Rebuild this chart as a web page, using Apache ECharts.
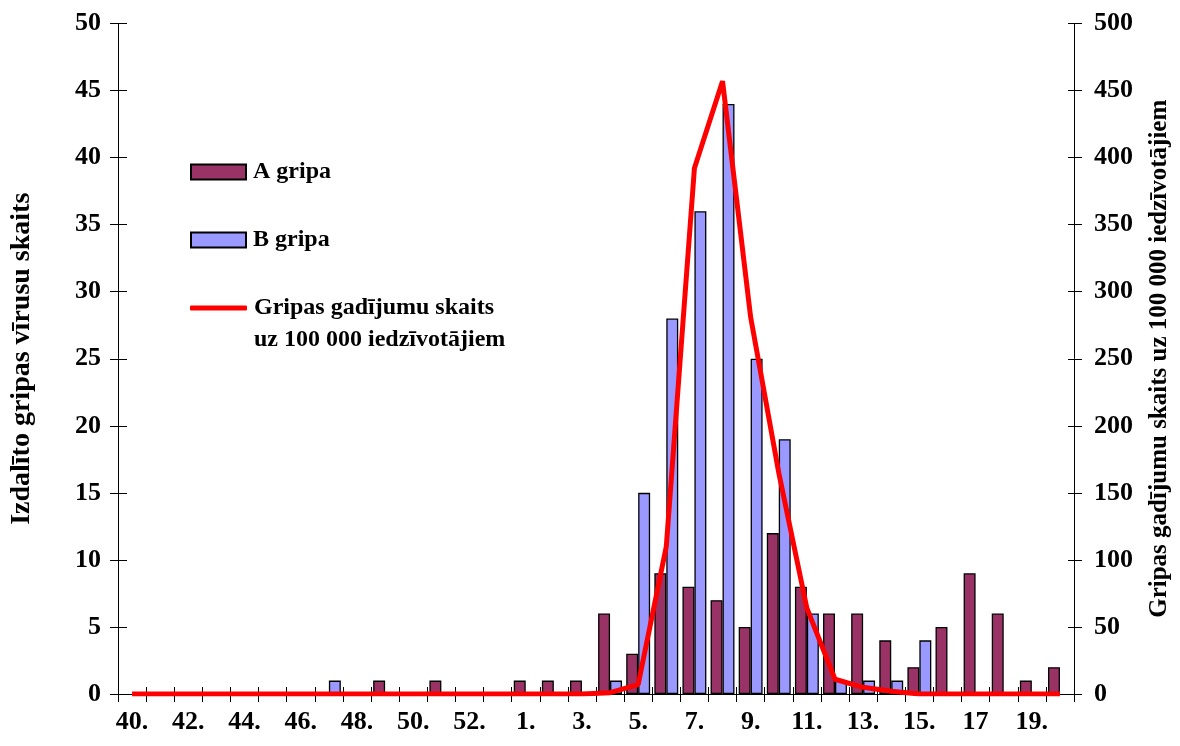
<!DOCTYPE html>
<html>
<head>
<meta charset="utf-8">
<script src="https://cdn.jsdelivr.net/npm/echarts@6/dist/echarts.min.js"></script>
<style>
html,body{margin:0;padding:0;background:#fff;}
#chart{width:1180px;height:746px;}
</style>
</head>
<body>
<div id="chart"></div>
<script>
// Weeks (2009/2010 season: weeks 40-53, then 1-20)
var weeks = ['40.','41.','42.','43.','44.','45.','46.','47.','48.','49.','50.','51.','52.','53.',
             '1.','2.','3.','4.','5.','6.','7.','8.','9.','10.','11.','12.','13.','14.','15.','16.','17','18.','19.','20.'];
// Influenza A isolated viruses
var gripaA = [0,0,0,0,0,0,0,0,0,1,0,1,0,0,
              1,1,1,6,3,9,8,7,5,12,8,6,6,4,2,5,9,6,1,2];
// Influenza B isolated viruses
var gripaB = [0,0,0,0,0,0,0,1,0,0,0,0,0,0,
              0,0,0,1,15,28,36,44,25,19,6,1,1,1,4,0,0,0,0,0];
// Influenza cases per 100 000 inhabitants
var rate = [0,0,0,0,0,0,0,0,0,0,0,0,0,0,
            0,0,0,1,7,110,392,457,281,165,64,11,5,2,0,0,0,0,0,0];

var leftTicks = [0,5,10,15,20,25,30,35,40,45,50];
var rightTicks = [0,50,100,150,200,250,300,350,400,450,500];

var nameA = 'A gripa';
var nameB = 'B gripa';
var nameRate = 'Gripas gadījumu skaits uz 100 000 iedzīvotājiem';

var FONT = 'Liberation Serif';
function T(size) { return {fontFamily: FONT, fontWeight: 'bold', fontSize: size, color: '#000'}; }

// zero counts are drawn as no bar (as in the original)
function noZero(arr) { return arr.map(function (v) { return v === 0 ? null : v; }); }

var chart = echarts.init(document.getElementById('chart'), null, {renderer: 'canvas'});

function legendBlock(item, top, extra) {
  var o = {
    data: [item],
    left: 190, top: top, padding: 0,
    itemWidth: 55, itemHeight: 15, itemGap: 0,
    selectedMode: false,
    textStyle: Object.assign(T(24), {padding: [0,0,0,2]})
  };
  return Object.assign(o, extra || {});
}

var option = {
  animation: false,
  backgroundColor: '#fff',
  grid: {left: 118, right: 101, top: 23.5, bottom: 52},
  legend: [
    legendBlock({name: nameA, icon: 'rect'}, 160),
    legendBlock({name: nameB, icon: 'rect'}, 228),
    legendBlock({name: nameRate, icon: 'roundRect'}, 260, {
      itemWidth: 57, itemHeight: 5,
      textStyle: Object.assign(T(24), {lineHeight: 32, padding: [0,0,0,2]}),
      formatter: function () { return '\nGripas gadījumu skaits\nuz 100 000 iedzīvotājiem'; }
    })
  ],
  xAxis: [{
    type: 'category',
    data: weeks,
    boundaryGap: true,
    axisLine: {lineStyle: {color: '#000', width: 1}},
    axisTick: {show: true, interval: 0, length: 8, lineStyle: {color: '#000'}},
    axisLabel: Object.assign(T(26), {interval: 1, margin: 15}),
    splitLine: {show: false}
  }, {
    type: 'category',
    data: weeks,
    position: 'bottom',
    boundaryGap: true,
    axisLine: {show: false},
    axisTick: {show: true, inside: true, interval: 0, length: 7, lineStyle: {color: '#000'}},
    axisLabel: {show: false},
    splitLine: {show: false}
  }],
  yAxis: [{
    type: 'value',
    position: 'left',
    min: 0, max: 50, interval: 5,
    name: 'Izdalīto gripas vīrusu skaits',
    nameLocation: 'middle',
    nameRotate: 90,
    nameGap: 82,
    nameTextStyle: T(28),
    axisLine: {show: true, lineStyle: {color: '#000', width: 1}},
    axisTick: {show: true, length: 8, lineStyle: {color: '#000'}},
    axisLabel: Object.assign(T(26), {margin: 17, formatter: function (v) { return leftTicks.indexOf(v) >= 0 ? String(v) : ''; }}),
    splitLine: {show: false}
  }, {
    type: 'value',
    position: 'right',
    min: 0, max: 500, interval: 50,
    name: nameRate,
    nameLocation: 'middle',
    nameRotate: 90,
    nameGap: 73,
    nameTextStyle: T(25),
    axisLine: {show: true, lineStyle: {color: '#000', width: 1}},
    axisTick: {show: true, length: 8, lineStyle: {color: '#000'}},
    axisLabel: Object.assign(T(26), {margin: 20, formatter: function (v) { return rightTicks.indexOf(v) >= 0 ? String(v) : ''; }}),
    splitLine: {show: false}
  }, {
    type: 'value',
    position: 'left',
    min: 0, max: 50, interval: 5,
    axisLine: {show: false},
    axisTick: {show: true, inside: true, length: 9, lineStyle: {color: '#000'}},
    axisLabel: {show: false},
    splitLine: {show: false}
  }, {
    type: 'value',
    position: 'right',
    min: 0, max: 500, interval: 50,
    axisLine: {show: false},
    axisTick: {show: true, inside: true, length: 6, lineStyle: {color: '#000'}},
    axisLabel: {show: false},
    splitLine: {show: false}
  }],
  series: [{
    name: nameA,
    type: 'bar',
    yAxisIndex: 0,
    data: noZero(gripaA),
    barGap: '0%',
    barCategoryGap: '15%',
    itemStyle: {color: '#993366', borderColor: '#000', borderWidth: 1.3},
    z: 2
  }, {
    name: nameB,
    type: 'bar',
    yAxisIndex: 0,
    data: noZero(gripaB),
    barGap: '0%',
    barCategoryGap: '15%',
    itemStyle: {color: '#9999FF', borderColor: '#000', borderWidth: 1.3},
    z: 2
  }, {
    name: nameRate,
    type: 'line',
    yAxisIndex: 1,
    data: rate,
    symbol: 'none',
    showSymbol: false,
    lineStyle: {color: '#FF0000', width: 5},
    itemStyle: {color: '#FF0000'},
    z: 5
  }]
};
chart.setOption(option);
</script>
</body>
</html>
